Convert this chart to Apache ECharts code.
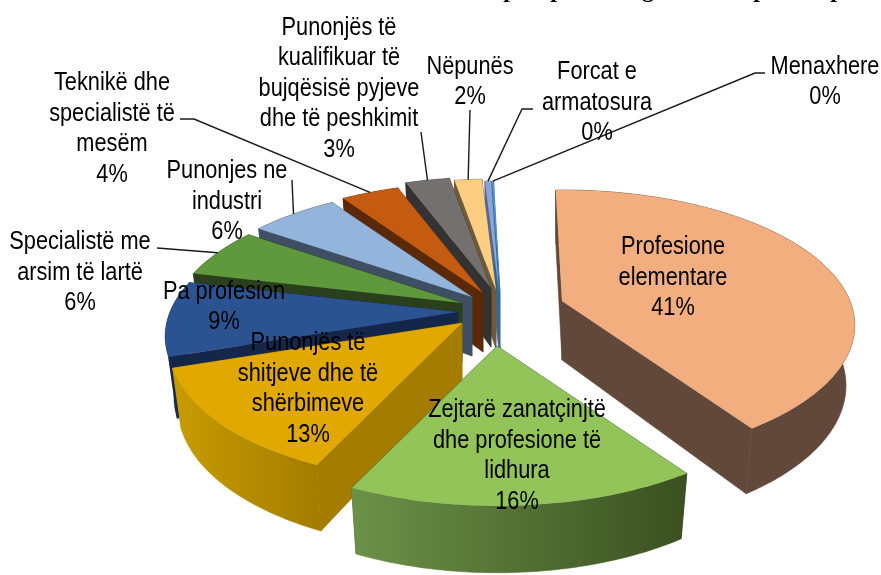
<!DOCTYPE html>
<html>
<head>
<meta charset="utf-8">
<style>
  html, body { margin: 0; padding: 0; background: #fff; }
  #chart { width: 881px; height: 575px; }
</style>
</head>
<body>
<div id="chart"></div>
<script src="https://cdn.jsdelivr.net/npm/echarts@6/dist/echarts.min.js"></script>
<script>
// categories clockwise from the top, label line breaks as in the picture
const categories = [
  'Profesione\nelementare',
  'Zejtarë zanatçinjtë\ndhe profesione të\nlidhura',
  'Punonjës të\nshitjeve dhe të\nshërbimeve',
  'Pa profesion',
  'Specialistë me\narsim të lartë',
  'Punonjes ne\nindustri',
  'Teknikë dhe\nspecialistë të\nmesëm',
  'Punonjës të\nkualifikuar të\nbujqësisë pyjeve\ndhe të peshkimit',
  'Nëpunës',
  'Forcat e\narmatosura',
  'Menaxhere'
]
const values = [40.9, 16.4, 12.8, 9.0, 6.0, 5.8, 3.8, 2.9, 1.8, 0.4, 0.1]
const topColors = ['#F2AE7E', '#92C45A', '#E0A800', '#2B5391', '#5F983D', '#93B5DC', '#C55A11', '#757070', '#FDCD82', '#8CA5D8', '#5B9BD5']
const wallColors = ['#62483A', '#3C5222', '#A37C00', '#14264A', '#2A3F1C', '#3F4F63', '#5A2A08', '#333333', '#6F5B3A', '#56658A', '#2E6A9E']
const rimColors = [
  ['#62483A', '#62483A'],
  ['#6C9148', '#3A5020'],
  ['#C89C00', '#A37C00'],
  ['#14264A', '#14264A'],
  ['#2A3F1C', '#2A3F1C'],
  ['#3F4F63', '#3F4F63'],
  ['#5A2A08', '#5A2A08'],
  ['#333333', '#333333'],
  ['#6F5B3A', '#6F5B3A'],
  ['#56658A', '#56658A'],
  ['#2E6A9E', '#2E6A9E']
]
// how far each slice is pulled out of the pie, px on screen
const explode = [[72, -4], [7, 41], [-28, 18], [-32, 7], [-28, -2], [-18, -8], [-7, -12], [1, -17], [6, -15], [9, -13], [10, -13]]
// label centres and the label end of the leader lines
const labelPos = [[673, 278], [517, 456], [308, 389], [224, 307], [80, 273], [227, 202], [112, 129], [339, 89], [470, 82], [597, 103], [825, 82]]
const leaders = {
  4: [[157, 248]],
  5: [[292, 180]],
  6: [[180, 119], [194, 119]],
  7: [[421, 132]],
  8: [[470, 110]],
  9: [[533, 109], [522, 109]],
  10: [[765, 73], [755, 73]]
}
const topGlyphs = [['p', 510], ['p', 557], ['g', 648], ['p', 760], ['p', 837]]

const CENTER = [490, 305]
const RADIUS = 288
const TILT = 131
const PERSPECTIVE = 0.18
const START_ANGLE = -1.5
const THICK = 59
const total = values.reduce((a, b) => a + b, 0)

function sliceAngles(i) {
  let before = 0
  for (let k = 0; k < i; k++) before += values[k]
  return [START_ANGLE + (before / total) * 360, START_ANGLE + ((before + values[i]) / total) * 360]
}

// disc point at angle (deg, clockwise from the back) to screen offset
function rimOffset(deg) {
  const a = (deg * Math.PI) / 180
  const u = Math.sin(a)
  const v = -Math.cos(a)
  const s = 1 / (1 - PERSPECTIVE * v)
  return [RADIUS * u * s, TILT * v * s]
}

function renderSlice(params, api) {
  const i = api.value(0)
  const [start, end] = sliceAngles(i)
  const mid = (start + end) / 2
  const apex = [CENTER[0] + explode[i][0], CENTER[1] + explode[i][1]]
  const apexLow = [apex[0], apex[1] + THICK]
  const top = d => {
    const o = rimOffset(d)
    return [apex[0] + o[0], apex[1] + o[1]]
  }
  const low = d => {
    const o = rimOffset(d)
    return [apex[0] + o[0] * 0.97, apexLow[1] + o[1] * 1.05]
  }
  const arcTop = []
  const arcLow = []
  const steps = Math.max(2, Math.ceil(end - start))
  for (let k = 0; k <= steps; k++) {
    const d = start + ((end - start) * k) / steps
    arcTop.push(top(d))
    arcLow.push(low(d))
  }
  const rimFill = {
    type: 'linear',
    x: 0,
    y: 0,
    x2: 1,
    y2: 0,
    colorStops: [
      { offset: 0, color: rimColors[i][0] },
      { offset: 1, color: rimColors[i][1] }
    ]
  }
  // back to front, the slices nearest the viewer get the highest z2
  const z = Math.round((1 - Math.cos((mid * Math.PI) / 180)) * 100)
  const children = [
    {
      type: 'polygon',
      z2: z,
      shape: { points: [apex, top(start), low(start), apexLow] },
      style: { fill: wallColors[i], stroke: wallColors[i], lineWidth: 0.6 }
    },
    {
      type: 'polygon',
      z2: z,
      shape: { points: [apex, top(end), low(end), apexLow] },
      style: { fill: wallColors[i], stroke: wallColors[i], lineWidth: 0.6 }
    },
    {
      type: 'polygon',
      z2: z + 1,
      shape: { points: arcTop.concat(arcLow.slice().reverse()) },
      style: { fill: rimFill, stroke: rimFill, lineWidth: 0.6 }
    },
    {
      type: 'polygon',
      z2: z + 2,
      shape: { points: [apex].concat(arcTop) },
      style: { fill: topColors[i] }
    }
  ]
  if (leaders[i]) {
    children.push({
      type: 'polyline',
      z2: 500,
      shape: { points: leaders[i].concat([top(mid)]) },
      style: { stroke: '#1a1a1a', lineWidth: 1.4, fill: null }
    })
  }
  children.push({
    type: 'text',
    x: labelPos[i][0],
    y: labelPos[i][1],
    scaleX: 0.87,
    z2: 600,
    style: {
      text: categories[i] + '\n' + Math.round((values[i] / total) * 100) + '%',
      fontFamily: 'Liberation Sans',
      fontSize: 25,
      lineHeight: 30.5,
      fill: '#000',
      align: 'center',
      verticalAlign: 'middle'
    }
  })
  return { type: 'group', children }
}

const chart = echarts.init(document.getElementById('chart'))
chart.setOption({
  backgroundColor: '#fff',
  animation: false,
  // bottom of the title line above, cut by the top of the page
  graphic: topGlyphs.map(g => ({
    type: 'text',
    x: g[1],
    y: 3,
    silent: true,
    style: {
      text: g[0],
      fontFamily: 'Liberation Serif',
      fontWeight: 'bold',
      fontSize: 24,
      fill: '#000',
      align: 'center',
      verticalAlign: 'bottom'
    }
  })),
  series: [
    {
      type: 'custom',
      coordinateSystem: 'none',
      silent: true,
      clip: false,
      renderItem: renderSlice,
      data: values.map((v, i) => [i, v])
    }
  ]
})
</script>
</body>
</html>
